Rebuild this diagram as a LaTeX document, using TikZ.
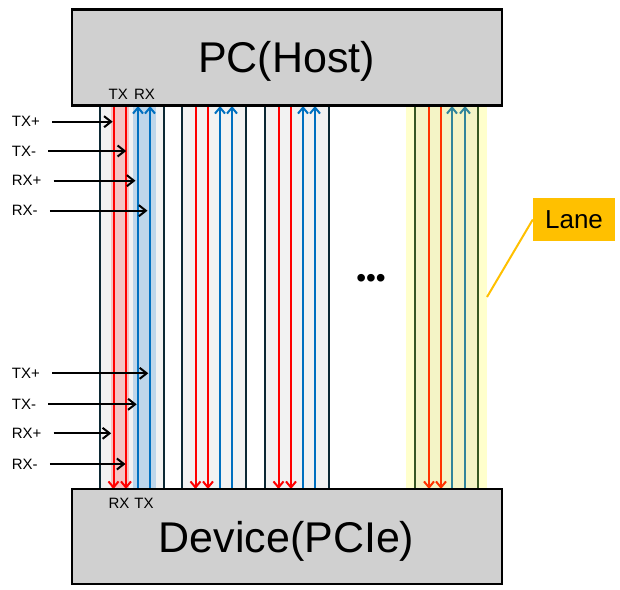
\documentclass[tikz,border=0pt]{standalone}
\usepackage{fontspec}
\setmainfont{Liberation Sans}
\usetikzlibrary{arrows.meta,positioning,calc}
\definecolor{HostGray}{RGB}{208,208,208}
\definecolor{LaneEdge}{RGB}{12,40,52}
\definecolor{LaneFill}{RGB}{242,242,242}
\definecolor{TxRed}{RGB}{255,0,0}
\definecolor{RxBlue}{RGB}{0,112,192}
\definecolor{TxBand}{RGB}{244,196,196}
\definecolor{RxBand}{RGB}{190,214,234}
\definecolor{LaneYellow}{RGB}{255,255,204}
\definecolor{LaneYellowIn}{RGB}{244,244,198}
\definecolor{LaneGreen}{RGB}{56,87,35}
\definecolor{LaneOrange}{RGB}{255,51,0}
\definecolor{LaneTeal}{RGB}{49,133,155}
\definecolor{LaneTag}{RGB}{255,192,0}

\begin{document}
\begin{tikzpicture}[x=1pt,y=-1pt,>={Straight Barb[length=6pt,width=10pt]}]
  \useasboundingbox (0,0) rectangle (620,589);
  % lane backgrounds
  \fill[LaneYellow] (406,106) rectangle (487,489);
  \fill[LaneYellowIn] (415,106) rectangle (478,489);
  \foreach \lx in {100,182,265}
    \fill[LaneFill] (\lx,106) rectangle ++(64,383);
  \fill[TxBand] (111,106) rectangle (129,489);
  \fill[RxBand] (133,106) rectangle (156,489);
  % the lanes
  \foreach \lx in {100,182,265} {
    \draw[LaneEdge,line width=2.2pt] (\lx,106) -- ++(0,383) (\lx+64,106) -- ++(0,383);
    \draw[TxRed,line width=2pt,->] (\lx+13.5,106) -- ++(0,383);
    \draw[TxRed,line width=2pt,->] (\lx+26,106) -- ++(0,383);
    \draw[RxBlue,line width=2pt,->] (\lx+38,489) -- ++(0,-383);
    \draw[RxBlue,line width=2pt,->] (\lx+50,489) -- ++(0,-383);
  }
  \draw[LaneGreen,line width=2.2pt] (415,106) -- (415,489) (478,106) -- (478,489);
  \draw[LaneOrange,line width=2pt,->] (429,106) -- (429,489);
  \draw[LaneOrange,line width=2pt,->] (441,106) -- (441,489);
  \draw[LaneTeal,line width=2pt,->] (452,489) -- (452,106);
  \draw[LaneTeal,line width=2pt,->] (465,489) -- (465,106);

  % host and device
  \node[draw,line width=2.5pt,fill=HostGray,minimum width=430,minimum height=96] (host) at (287,57.7) {};
  \node[draw,line width=2.5pt,fill=HostGray,minimum width=430,minimum height=95] (dev) at (287,536.5) {};
  \node[anchor=base,font=\fontsize{43}{43}\selectfont] (hostname) at (286.5,72.7) {PC(Host)};
  \node[anchor=base,font=\fontsize{43}{43}\selectfont] (devname) at (286.5,552.7) {Device(PCIe)};
  \node[anchor=base,inner sep=0,font=\fontsize{15}{15}\selectfont] (toptx) at (118.3,99.3) {TX};
  \node[anchor=base,inner sep=0,font=\fontsize{15}{15}\selectfont] (toprx) at (144.5,99.3) {RX};
  \node[anchor=base,inner sep=0,font=\fontsize{15}{15}\selectfont] (botrx) at (119,508.3) {RX};
  \node[anchor=base,inner sep=0,font=\fontsize{15}{15}\selectfont] (bottx) at (144,508.3) {TX};

  % signal pins, upper group
  \node[anchor=west,inner sep=0,font=\fontsize{15}{15}\selectfont] (txpa) at (11.7,121.7) {TX+};
  \node[anchor=west,inner sep=0,font=\fontsize{15}{15}\selectfont] (txma) at (11.7,151) {TX-};
  \node[anchor=west,inner sep=0,font=\fontsize{15}{15}\selectfont] (rxpa) at (11.7,180.7) {RX+};
  \node[anchor=west,inner sep=0,font=\fontsize{15}{15}\selectfont] (rxma) at (11.7,210.7) {RX-};
  \coordinate (txpa-end) at (112.7,121.7);
  \coordinate (txma-end) at (126.2,151);
  \coordinate (rxpa-end) at (135.5,180.7);
  \coordinate (rxma-end) at (147.5,210.7);
  \draw[->,line width=2pt,>={Straight Barb[length=7pt,width=11pt]}] ([xshift=12]txpa.east) -- (txpa-end);
  \draw[->,line width=2pt,>={Straight Barb[length=7pt,width=11pt]}] ([xshift=12]txma.east) -- (txma-end);
  \draw[->,line width=2pt,>={Straight Barb[length=7pt,width=11pt]}] ([xshift=12]rxpa.east) -- (rxpa-end);
  \draw[->,line width=2pt,>={Straight Barb[length=7pt,width=11pt]}] ([xshift=12]rxma.east) -- (rxma-end);

  % signal pins, lower group
  \node[anchor=west,inner sep=0,font=\fontsize{15}{15}\selectfont] (txpb) at (11.7,373.3) {TX+};
  \node[anchor=west,inner sep=0,font=\fontsize{15}{15}\selectfont] (txmb) at (11.7,404.3) {TX-};
  \node[anchor=west,inner sep=0,font=\fontsize{15}{15}\selectfont] (rxpb) at (11.7,433.3) {RX+};
  \node[anchor=west,inner sep=0,font=\fontsize{15}{15}\selectfont] (rxmb) at (11.7,464) {RX-};
  \coordinate (txpb-end) at (148.3,373.3);
  \coordinate (txmb-end) at (136.7,404.3);
  \coordinate (rxpb-end) at (111.2,433.3);
  \coordinate (rxmb-end) at (125.5,464);
  \draw[->,line width=2pt,>={Straight Barb[length=7pt,width=11pt]}] ([xshift=12]txpb.east) -- (txpb-end);
  \draw[->,line width=2pt,>={Straight Barb[length=7pt,width=11pt]}] ([xshift=12]txmb.east) -- (txmb-end);
  \draw[->,line width=2pt,>={Straight Barb[length=7pt,width=11pt]}] ([xshift=12]rxpb.east) -- (rxpb-end);
  \draw[->,line width=2pt,>={Straight Barb[length=7pt,width=11pt]}] ([xshift=12]rxmb.east) -- (rxmb-end);

  % more lanes, and the lane tag
  \node[font=\fontsize{28}{28}\selectfont] (more) at (371,281) {•••};
  \node[fill=LaneTag,minimum width=82,minimum height=43,font=\fontsize{26}{26}\selectfont] (lanetag) at (574,219.5) {Lane};
  \coordinate (lanept) at (487,297);
  \draw[LaneTag,line width=2pt] (lanetag.west) -- (lanept);
\end{tikzpicture}
\end{document}
